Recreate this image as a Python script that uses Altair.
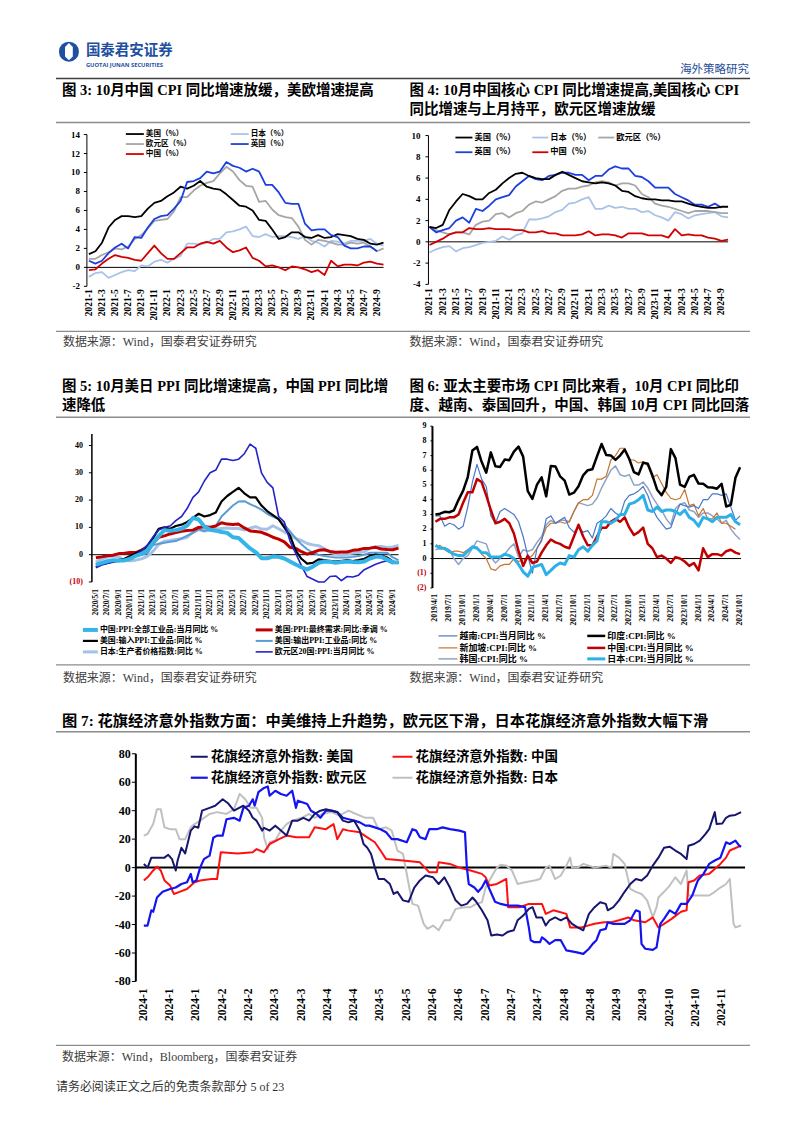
import altair as alt
import pandas as pd

SERIF = "Liberation Serif"
MIX = "'Liberation Serif', 'Noto Sans CJK SC', serif"
CJK = "'Noto Sans CJK SC', sans-serif"
LATIN = "'Open Sans', 'Noto Sans', sans-serif"
LOGO_BLUE = '#1e4fa0'
GRAY_LINE = '#8c8c8c'
DARK_LINE = '#3f3f3f'
SRC = '#404040'
OFF = 8  # page margin: page pixel -> canvas pixel

# ---------------- Figure 3: CPI YoY (2021-1 .. 2024-10) ----------------
lab3 = ['2021-1', '2021-3', '2021-5', '2021-7', '2021-9', '2021-11', '2022-1', '2022-3', '2022-5',
        '2022-7', '2022-9', '2022-11', '2023-1', '2023-3', '2023-5', '2023-7', '2023-9', '2023-11',
        '2024-1', '2024-3', '2024-5', '2024-7', '2024-9']
us3 = [1.4, 1.7, 2.6, 4.2, 5.0, 5.4, 5.4, 5.3, 5.4, 6.2, 6.8, 7.0, 7.5, 7.9, 8.5, 8.3, 8.6, 9.1, 8.5, 8.3,
       8.2, 7.7, 7.1, 6.5, 6.4, 6.0, 5.0, 4.9, 4.0, 3.0, 3.2, 3.7, 3.7, 3.2, 3.1, 3.4, 3.1, 3.2, 3.5, 3.4,
       3.3, 3.0, 2.9, 2.5, 2.4, 2.6]
jp3 = [-1.0, -0.6, -0.5, -1.1, -0.8, -0.5, -0.3, -0.4, 0.2, 0.1, 0.6, 0.8, 0.5, 0.9, 1.2, 2.5, 2.5, 2.4,
       2.6, 3.0, 3.0, 3.7, 3.8, 4.0, 4.3, 3.3, 3.2, 3.5, 3.2, 3.3, 3.3, 3.2, 3.0, 3.3, 2.8, 2.6, 2.2, 2.8,
       2.7, 2.5, 2.8, 2.8, 2.8, 3.0, 2.5, 2.3]
eu3 = [0.9, 0.9, 1.3, 1.6, 2.0, 1.9, 2.2, 3.0, 3.4, 4.1, 4.9, 5.0, 5.1, 5.9, 7.4, 7.4, 8.1, 8.6, 8.9, 9.1,
       9.9, 10.6, 10.1, 9.2, 8.6, 8.5, 6.9, 7.0, 6.1, 5.5, 5.3, 5.2, 4.3, 2.9, 2.4, 2.9, 2.8, 2.6, 2.4, 2.4,
       2.6, 2.5, 2.6, 2.2, 1.7, 2.0]
uk3 = [0.7, 0.4, 0.7, 1.5, 2.1, 2.5, 2.0, 3.2, 3.1, 4.2, 5.1, 5.4, 5.5, 6.2, 7.0, 9.0, 9.1, 9.4, 10.1, 9.9,
       10.1, 11.1, 10.7, 10.5, 10.1, 10.4, 10.1, 8.7, 8.7, 7.9, 6.8, 6.7, 6.7, 4.6, 3.9, 4.0, 4.0, 3.4, 3.2,
       2.3, 2.0, 2.0, 2.2, 2.2, 1.7]
cn3 = [-0.3, -0.2, 0.4, 0.9, 1.3, 1.1, 1.0, 0.8, 0.7, 1.5, 2.3, 1.5, 0.9, 0.9, 1.5, 2.1, 2.1, 2.5, 2.7, 2.5,
       2.8, 2.1, 1.6, 1.8, 2.1, 1.0, 0.7, 0.1, 0.2, 0.0, -0.3, 0.1, 0.0, -0.2, -0.5, -0.3, -0.8, 0.7, 0.1,
       0.3, 0.3, 0.2, 0.5, 0.6, 0.4, 0.3]

# ---------------- Figure 4: core CPI YoY ----------------
us4 = [1.4, 1.3, 1.6, 3.0, 3.8, 4.5, 4.3, 4.0, 4.0, 4.6, 4.9, 5.5, 6.0, 6.4, 6.5, 6.2, 6.0, 5.9, 5.9, 6.3,
       6.6, 6.3, 6.0, 5.7, 5.6, 5.5, 5.6, 5.5, 5.3, 4.8, 4.7, 4.3, 4.1, 4.0, 4.0, 3.9, 3.9, 3.8, 3.8, 3.6,
       3.4, 3.3, 3.2, 3.2, 3.3, 3.3]
jp4 = [-1.0, -0.7, -0.5, -0.4, -0.9, -0.6, -0.5, -0.3, -0.1, 0.0, 0.1, 0.5, 0.2, 0.6, 0.8, 2.1, 2.1, 2.2,
       2.4, 2.8, 3.0, 3.6, 3.7, 4.0, 4.2, 3.1, 3.1, 3.4, 3.2, 3.3, 3.1, 3.1, 2.8, 2.9, 2.5, 2.3, 2.0, 2.8,
       2.6, 2.2, 2.5, 2.6, 2.7, 2.8, 2.4, 2.3]
eu4 = [1.4, 1.1, 0.9, 0.7, 0.9, 0.9, 0.7, 1.6, 1.9, 2.0, 2.6, 2.7, 2.3, 2.7, 2.9, 3.5, 3.8, 3.7, 4.0, 4.3,
       4.8, 5.0, 5.0, 5.2, 5.3, 5.6, 5.7, 5.6, 5.3, 5.5, 5.5, 5.3, 4.5, 4.2, 3.6, 3.4, 3.3, 3.1, 2.9, 2.7,
       2.9, 2.9, 2.9, 2.8, 2.7, 2.7]
uk4 = [1.4, 0.9, 1.1, 1.3, 2.0, 2.3, 1.8, 3.1, 2.9, 3.4, 4.0, 4.2, 4.4, 5.2, 5.7, 6.2, 5.9, 5.8, 6.2, 6.3,
       6.5, 6.5, 6.3, 6.3, 5.8, 6.2, 6.2, 6.8, 7.1, 6.9, 6.9, 6.2, 6.1, 5.7, 5.1, 5.1, 5.1, 4.5, 4.2, 3.9,
       3.5, 3.5, 3.3, 3.6, 3.2]
cn4 = [-0.3, 0.0, 0.3, 0.7, 0.9, 0.9, 1.3, 1.2, 1.2, 1.3, 1.2, 1.2, 1.2, 1.1, 1.1, 0.9, 0.9, 1.0, 0.8, 0.8,
       0.6, 0.6, 0.6, 0.7, 1.0, 0.6, 0.7, 0.7, 0.6, 0.4, 0.8, 0.8, 0.8, 0.6, 0.6, 0.6, 0.4, 1.2, 0.6, 0.7,
       0.6, 0.6, 0.4, 0.3, 0.1, 0.2]

# ---------------- Figure 5: PPI YoY (2020/5 .. 2024/10) ----------------
lab5 = ['2020/5/1', '2020/7/1', '2020/9/1', '2020/11/1', '2021/1/1', '2021/3/1', '2021/5/1', '2021/7/1',
        '2021/9/1', '2021/11/1', '2022/1/1', '2022/3/1', '2022/5/1', '2022/7/1', '2022/9/1', '2022/11/1',
        '2023/1/1', '2023/3/1', '2023/5/1', '2023/7/1', '2023/9/1', '2023/11/1', '2024/1/1', '2024/3/1',
        '2024/5/1', '2024/7/1', '2024/9/1']
cn5 = [-3.7, -3.0, -2.4, -2.0, -2.1, -2.1, -1.5, -0.4, 0.3, 1.7, 4.4, 6.8, 9.0, 8.8, 9.0, 9.5, 10.7, 13.5,
       12.9, 10.3, 9.1, 8.8, 8.3, 8.0, 6.4, 6.1, 4.2, 2.3, 0.9, -1.3, -1.3, -0.7, -0.8, -1.4, -2.5, -3.6,
       -4.6, -5.4, -4.4, -3.0, -2.5, -2.6, -3.0, -2.7, -2.5, -2.7, -2.8, -2.5, -1.4, -0.8, -0.8, -1.8, -2.8,
       -2.9]
usppi5 = [-1.1, -0.8, -0.4, -0.2, 0.4, 0.5, 0.8, 0.8, 1.7, 2.8, 4.1, 6.4, 6.9, 7.6, 8.1, 8.6, 8.9, 9.0,
          10.0, 10.2, 10.1, 10.5, 11.7, 11.2, 11.1, 11.2, 9.8, 8.7, 8.5, 8.2, 7.4, 6.4, 5.7, 4.7, 2.7, 2.3,
          1.1, 0.2, 0.8, 1.6, 1.8, 1.2, 0.9, 1.0, 1.0, 1.6, 1.8, 2.3, 2.4, 2.7, 2.1, 1.9, 1.8, 2.4]
imp5 = [-4.5, -3.5, -3.0, -2.5, -2.0, -1.5, -0.5, 0.5, 1.5, 3.0, 6.0, 9.5, 10.0, 9.5, 10.5, 11.0, 12.0,
        13.5, 15.0, 14.0, 14.5, 15.5, 19.5, 21.5, 23.0, 24.5, 22.5, 21.0, 21.0, 18.0, 16.0, 14.5, 13.0,
        10.0, 7.0, 1.5, -1.5, -3.3, -3.0, -1.7, -2.0, -2.3, -2.5, -2.3, -2.0, -2.3, -2.0, -1.5, -0.5, 0.0,
        -0.3, -1.0, -2.5, -3.0]
exp5 = [-4.0, -3.0, -2.8, -2.5, -2.5, -2.0, -1.5, -0.5, 0.0, 0.5, 3.5, 4.0, 4.4, 4.7, 5.0, 6.0, 7.0, 8.0,
        9.3, 8.7, 9.5, 10.5, 14.0, 16.0, 18.0, 19.5, 19.6, 18.5, 17.6, 16.5, 15.0, 14.0, 13.0, 11.0, 8.5,
        6.0, 3.8, 2.0, 0.7, 0.0, -0.5, -0.8, -1.0, -1.0, -1.0, -0.8, -0.5, 0.0, 0.7, 0.7, 0.7, 0.7, -1.0,
        -2.0]
jp5 = [-2.7, -1.6, -0.9, -0.5, -0.8, -2.1, -2.2, -2.0, -1.5, -0.6, 1.2, 3.8, 4.9, 5.2, 5.6, 5.8, 6.4, 8.3,
       9.2, 8.7, 9.0, 9.4, 9.6, 9.8, 9.6, 9.6, 9.0, 9.7, 10.3, 9.4, 9.3, 10.6, 9.5, 8.3, 7.4, 5.9, 5.2, 4.1,
       3.6, 3.3, 2.2, 0.9, 0.3, 0.0, 0.2, 0.6, 0.8, 1.1, 2.4, 2.9, 3.0, 2.6, 2.8, 3.4]
eu5 = [-4.8, -3.8, -3.2, -2.8, -2.2, -2.0, -1.2, 0.0, 1.5, 3.5, 6.5, 9.0, 10.0, 10.5, 12.5, 14.0, 17.0,
       21.0, 23.0, 27.0, 30.0, 31.0, 35.0, 35.0, 34.5, 35.0, 37.0, 40.5, 39.0, 30.0, 26.5, 24.5, 14.0, 12.0,
       5.0, 0.5, -4.0, -8.0, -9.0, -10.0, -10.0, -8.0, -7.8, -9.5, -8.0, -8.2, -7.5, -5.5, -4.5, -3.5, -2.8,
       -2.2, -3.3]

# ---------------- Figure 6: Asia CPI YoY (2019/4 .. 2024/10) ----------------
lab6 = ['2019/4/1', '2019/7/1', '2019/10/1', '2020/1/1', '2020/4/1', '2020/7/1', '2020/10/1', '2021/1/1',
        '2021/4/1', '2021/7/1', '2021/10/1', '2022/1/1', '2022/4/1', '2022/7/1', '2022/10/1', '2023/1/1',
        '2023/4/1', '2023/7/1', '2023/10/1', '2024/1/1', '2024/4/1', '2024/7/1', '2024/10/1']
in6 = [2.99, 3.05, 3.18, 3.15, 3.28, 3.99, 4.62, 5.54, 7.35, 7.59, 6.58, 5.84, 7.22, 6.27, 6.23, 6.73, 6.69,
       7.27, 7.61, 6.93, 4.59, 4.06, 5.03, 5.52, 4.23, 6.30, 6.26, 5.59, 5.30, 4.35, 4.48, 4.91, 5.66, 6.01,
       6.07, 6.95, 7.79, 7.04, 7.01, 6.71, 7.00, 7.41, 6.77, 5.88, 5.72, 6.52, 6.44, 5.66, 4.70, 4.31, 4.87,
       7.44, 6.83, 5.02, 4.87, 5.55, 5.69, 5.10, 5.09, 4.85, 4.83, 4.75, 5.08, 3.54, 3.65, 5.49, 6.21]
cn6 = [2.5, 2.7, 2.7, 2.8, 2.8, 3.0, 3.8, 4.5, 4.5, 5.4, 5.2, 4.3, 3.3, 2.4, 2.5, 2.7, 2.4, 1.7, 0.5, -0.5,
       0.2, -0.3, -0.2, 0.4, 0.9, 1.3, 1.1, 1.0, 0.8, 0.7, 1.5, 2.3, 1.5, 0.9, 0.9, 1.5, 2.1, 2.1, 2.5, 2.7,
       2.5, 2.8, 2.1, 1.6, 1.8, 2.1, 1.0, 0.7, 0.1, 0.2, 0.0, -0.3, 0.1, 0.0, -0.2, -0.5, -0.3, -0.8, 0.7,
       0.1, 0.3, 0.3, 0.2, 0.5, 0.6, 0.4, 0.3]
jp6 = [0.9, 0.7, 0.7, 0.5, 0.3, 0.2, 0.2, 0.5, 0.8, 0.7, 0.4, 0.4, 0.1, 0.1, 0.1, 0.3, 0.2, 0.0, -0.4, -0.9,
       -1.2, -0.6, -0.5, -0.4, -1.1, -0.8, -0.5, -0.3, -0.4, 0.2, 0.1, 0.6, 0.8, 0.5, 0.9, 1.2, 2.5, 2.5,
       2.4, 2.6, 3.0, 3.0, 3.7, 3.8, 4.0, 4.3, 3.3, 3.2, 3.5, 3.2, 3.3, 3.3, 3.2, 3.0, 3.3, 2.8, 2.6, 2.2,
       2.8, 2.7, 2.5, 2.8, 2.8, 2.8, 3.0, 2.5, 2.3]
vn6 = [2.9, 2.9, 2.2, 2.4, 2.3, 2.0, 2.2, 3.5, 5.2, 6.4, 5.4, 4.9, 2.9, 2.4, 3.2, 3.4, 3.2, 3.0, 2.5, 1.5,
       0.2, -1.0, 0.7, 1.2, 2.7, 2.9, 2.4, 2.6, 2.8, 2.1, 1.8, 2.1, 1.8, 1.9, 1.4, 2.4, 2.6, 2.9, 3.4, 3.1,
       2.9, 3.9, 4.3, 4.4, 4.6, 4.9, 4.3, 3.4, 2.8, 2.4, 2.0, 2.1, 3.0, 3.7, 3.6, 3.5, 3.6, 3.4, 4.0, 4.0,
       4.4, 4.4, 4.3, 4.4, 3.5, 2.6, 2.9]
sg6 = [0.8, 0.9, 0.6, 0.4, 0.5, 0.5, 0.4, 0.6, 0.8, 0.8, 0.3, 0.0, -0.7, -0.8, -0.5, -0.4, -0.4, 0.0, -0.2,
       -0.1, 0.0, 0.2, 0.7, 1.3, 2.1, 2.4, 2.4, 2.5, 2.4, 2.5, 3.2, 3.8, 4.0, 4.0, 4.3, 5.4, 5.4, 5.6, 6.7,
       7.0, 7.5, 7.5, 6.7, 6.7, 6.5, 6.6, 6.3, 5.5, 5.7, 5.1, 4.5, 4.1, 4.0, 4.1, 4.7, 3.6, 3.7, 2.9, 3.4,
       2.7, 2.7, 3.1, 2.4, 2.4, 2.2, 2.0]
kr6 = [0.6, 0.7, 0.7, 0.6, 0.0, -0.4, 0.0, 0.2, 0.7, 1.2, 1.1, 1.0, 0.1, -0.3, 0.0, 0.3, 0.7, 1.0, 0.1, 0.6,
       0.5, 0.6, 1.1, 1.5, 2.3, 2.6, 2.4, 2.6, 2.6, 2.5, 3.2, 3.8, 3.7, 3.6, 3.7, 4.1, 4.8, 5.4, 6.0, 6.3,
       5.7, 5.6, 5.7, 5.0, 5.0, 5.2, 4.8, 4.2, 3.7, 3.3, 2.7, 2.3, 3.4, 3.7, 3.8, 3.3, 3.2, 2.8, 3.1, 3.1,
       2.9, 2.7, 2.4, 2.6, 2.0, 1.6, 1.3]

# ---------------- Figure 7: Citi economic surprise index (days since 2024-01-01) ----------------
lab7 = ['2024-1', '2024-1', '2024-1', '2024-2', '2024-2', '2024-3', '2024-3', '2024-4', '2024-4', '2024-5',
        '2024-5', '2024-6', '2024-6', '2024-7', '2024-7', '2024-7', '2024-8', '2024-8', '2024-9', '2024-9',
        '2024-10', '2024-10', '2024-11']
us7_d = [0, 2, 4, 11, 13, 15, 17, 18, 20, 22, 25, 27, 29, 31, 35, 38, 42, 45, 48, 53, 56, 58, 60, 63, 64, 67,
         70, 73, 76, 79, 82, 85, 88, 91, 94, 97, 100, 103, 106, 109, 112, 115, 117, 119, 121, 123, 125, 128,
         131, 133, 135, 138, 141, 144, 147, 150, 154, 157, 160, 163, 166, 169, 172, 175, 177, 180, 183, 185,
         188, 191, 194, 197, 199, 202, 205, 207, 209, 212, 214, 216, 219, 222, 225, 228, 231, 234, 237, 240,
         243, 246, 247, 250, 253, 256, 259, 262, 265, 268, 271, 274, 277, 280, 283, 286, 289, 290, 293, 296,
         299, 301, 304, 305, 308, 310, 312, 315, 318]
us7_v = [2.6, 0, 7, 7, 9, 6, -2, 5, 14, 10, 26, 29, 28, 40, 42, 43.5, 48, 45, 40, 43.5, 40, 35, 33, 26, 28,
         26, 29.5, 26, 22.5, 33, 33, 35, 33, 37.7, 40, 41, 40, 39, 33, 31.8, 33, 26, 16.6, 14, 9.6, 0, -8, -8,
         -11.5, -18.5, -17, -23, -24, -14, -9, -5.6, -6.8, -11.5, -6.8, -14, -23, -26.7, -25.5, -21, -24, -30,
         -37, -47.7, -47, -47.7, -45, -44, -37, -33.7, -29, -27.8, -35, -35, -40.7, -37, -35, -37, -35, -39.5,
         -42, -44, -32.5, -27.8, -24.3, -25.5, -30, -27.8, -23, -17, -11.5, -8, -9, -5.6, 1.4, 7, 14, 14.7,
         12, 9.6, 6, 15.4, 16.6, 19, 23.6, 27, 39, 30.6, 31, 35, 36.5, 37, 39]
eu7_d = [0, 2, 4, 5, 7, 10, 14, 17, 20, 23, 25, 26, 28, 30, 32, 35, 37, 39, 42, 44, 48, 51, 53, 56, 58, 59,
         61, 64, 66, 67, 70, 73, 76, 79, 81, 82, 87, 89, 92, 94, 97, 100, 103, 106, 109, 112, 115, 118, 120,
         123, 126, 129, 132, 135, 140, 143, 145, 147, 150, 152, 156, 159, 163, 168, 171, 172, 173, 176, 178,
         180, 182, 184, 187, 190, 194, 199, 203, 205, 206, 208, 211, 212, 214, 216, 219, 222, 225, 230, 234,
         237, 239, 241, 243, 246, 247, 250, 253, 256, 259, 262, 264, 265, 267, 271, 273, 275, 277, 280, 283,
         286, 289, 292, 295, 298, 301, 304, 307, 310, 312, 315, 317, 318]
eu7_v = [-40.7, -40.7, -30, -31, -21, -17, -15, -14, -11.5, -10.3, -4.4, -10.3, -9, 0, 6, 8.4, 21, 22.5,
         22.5, 34, 35, 33, 42, 43.5, 48, 43.5, 53, 56, 57, 50.5, 54, 51.7, 50.5, 54, 42, 47, 44.7, 40, 37.7,
         35, 40, 40, 39, 35, 34, 33, 31.8, 29.5, 29.5, 28.3, 27, 24.8, 20, 20, 17.8, 27, 26, 21.3, 20, 27, 27,
         28.3, 27, 26, 24.8, 0, -11.5, -14, -17, -14, -9, -15, -24, -25.5, -26.7, -26.7, -27.8, -42, -51,
         -52.4, -52.4, -49, -51, -53.6, -51, -51, -58.2, -59.4, -60.6, -57, -53.6, -51, -44, -43, -38.4,
         -39.5, -39.5, -39.5, -37, -30, -31, -53.6, -57, -57.8, -56, -39.5, -36, -30, -32.5, -25.5, -25.5,
         -19.6, -9, -4.4, 2.6, 5, 7, 17.8, 16.6, 19, 15.4, 14.7]
cn7_d = [0, 2, 5, 7, 9, 11, 14, 16, 19, 23, 27, 30, 36, 39, 41, 50, 58, 60, 64, 67, 72, 76, 81, 88, 91, 97,
         101, 103, 106, 109, 115, 119, 123, 126, 129, 138, 147, 152, 156, 157, 163, 168, 174, 180, 182, 184,
         188, 193, 194, 200, 205, 209, 212, 214, 218, 221, 225, 227, 233, 240, 245, 249, 253, 258, 261, 267,
         271, 274, 277, 281, 286, 289, 290, 293, 296, 301, 304, 307, 310, 312, 318]
cn7_v = [-9, -6.8, -2, 0.7, -2, -9, -12.6, -18.5, -17, -15, -10.3, -9, -8, -8, 10.8, 10, 10.8, 13, 10.8,
         16.6, 20, 22.5, 21.3, 21.3, 28.3, 27, 30.6, 20, 27, 26, 24.8, 21.3, 17.8, 12, 6, 5, 3.7, -3.3, -3.3,
         3.7, 2.6, 0, -2, -4.4, -6.8, -12.6, -11.5, -8, -27.8, -27.8, -25.5, -25.5, -25.5, -32.5, -30, -31,
         -32.5, -42, -42, -39.5, -38.4, -38.4, -37, -35, -37, -38.4, -35, -42, -39.5, -36, -31, -30, -10.3,
         -9, -5.6, -4.4, -1, 2.6, 7, 12, 15.4]
jp7_d = [0, 2, 5, 7, 9, 11, 14, 17, 19, 22, 25, 27, 30, 35, 39, 44, 48, 51, 54, 57, 60, 63, 64, 66, 67, 70,
         73, 76, 79, 84, 88, 91, 95, 100, 104, 109, 113, 118, 122, 125, 129, 132, 135, 138, 141, 143, 146,
         149, 151, 154, 157, 160, 163, 166, 171, 174, 177, 180, 182, 185, 188, 190, 193, 196, 199, 203, 208,
         211, 214, 216, 219, 222, 225, 227, 228, 231, 234, 237, 240, 243, 246, 249, 250, 253, 256, 259, 262,
         265, 268, 271, 273, 274, 277, 280, 283, 286, 289, 290, 293, 296, 301, 304, 307, 310, 312, 314, 315,
         318]
jp7_v = [22.5, 23.6, 30.6, 41, 41, 28.3, 27, 27, 20, 20, 28.3, 30.6, 33, 37.7, 39, 37.7, 41, 51.7, 48, 42,
         42, 35, 21.3, 13, 17.8, 19, 26, 30.6, 33, 35, 37.7, 35, 37.7, 39, 36.5, 40, 37.7, 35, 35, 27, 28.3,
         26, 12, 9.6, -11.5, -25.5, -26.7, -39.5, -43, -40.7, -44, -37, -37, -29, -27.8, -27.8, -25.5, -24.3,
         -14, -6.8, 0, 2, 1.4, -2, -11.5, -10.3, -9, -8, 0, 1.4, -8, -5.6, 1.4, 7, 0, 0, 2.6, 1.4, 0, 0.7, 1.4,
         0, 9.6, 7, 2.6, -15, -17, -18.5, -23, -35, -27.8, -21, -17, -12.6, -6.8, -11.5, -2, -19.6, -19.6,
         -19.6, -19.6, -17, -14, -11.5, -8, -39.5, -42, -40.7]


def c(p):
    return p - OFF


def idx(vals):
    return list(range(len(vals)))


def chart_layers(series, labels, step, xdom, xpix, ydom, ypix, yvals, axis_x, axis_top, zero_span,
                 xlab_y, xlab_size, ylab_right, ylab_size, paren=False, dom_w=1.0, tick=3, zero_w=1.0):
    """One line chart drawn through its own x/y scales, placed by the pixel ranges of those scales."""
    xs = alt.Scale(domain=xdom, range=[c(xpix[0]), c(xpix[1])], nice=False, zero=False)
    ys = alt.Scale(domain=ydom, range=[c(ypix[0]), c(ypix[1])], nice=False, zero=False)

    def X(f):
        return alt.X(f, scale=xs, axis=None, title=None)

    def Y(f):
        return alt.Y(f, scale=ys, axis=None, title=None)

    layers = []
    layers.append(alt.Chart(pd.DataFrame({'v': [0]})).mark_rule(color='black', strokeWidth=zero_w).encode(
        x=alt.value(c(zero_span[0])), x2=alt.value(c(zero_span[1])), y=Y('v:Q')))
    layers.append(alt.Chart(pd.DataFrame({'v': [ydom[0]], 'v2': [axis_top]})).mark_rule(
        color='black', strokeWidth=dom_w).encode(x=alt.value(c(axis_x)), y=Y('v:Q'), y2='v2:Q'))
    if paren:
        labs = ['(%d)' % abs(v) if v < 0 else '%d' % v for v in yvals]
        cols = ['#c00000' if v < 0 else 'black' for v in yvals]
    else:
        labs = ['%d' % v for v in yvals]
        cols = ['black' for v in yvals]
    tdf = pd.DataFrame({'v': yvals, 'lab': labs, 'col': cols})
    layers.append(alt.Chart(tdf).mark_rule(color='black', strokeWidth=1).encode(
        x=alt.value(c(axis_x - tick)), x2=alt.value(c(axis_x)), y=Y('v:Q')))
    layers.append(alt.Chart(tdf).mark_text(align='right', baseline='middle', font=SERIF, fontWeight='bold',
                                           fontSize=ylab_size).encode(
        x=alt.value(c(ylab_right)), y=Y('v:Q'), text='lab:N', color=alt.Color('col:N', scale=None, legend=None)))
    ldf = pd.DataFrame({'i': [k * step for k in range(len(labels))], 'lab': labels})
    layers.append(alt.Chart(ldf).mark_text(align='right', baseline='middle', angle=270, font=SERIF,
                                           fontWeight='bold', fontSize=xlab_size, color='black').encode(
        x=X('i:Q'), y=alt.value(c(xlab_y)), text='lab:N'))
    for xv, vv, color, w in series:
        layers.append(alt.Chart(pd.DataFrame({'i': xv, 'v': vv})).mark_line(
            color=color, strokeWidth=w, strokeJoin='round').encode(x=X('i:Q'), y=Y('v:Q')))
    return layers


def text_layers(items):
    df = pd.DataFrame(items, columns=['x', 'y', 't', 'fs', 'col', 'w', 'f'])
    df['x'] = df['x'] - OFF
    df['y'] = df['y'] - OFF
    out = []
    for (w, f), g in df.groupby(['w', 'f']):
        out.append(alt.Chart(g.reset_index(drop=True)).mark_text(
            align='left', baseline='middle', fontWeight=w, font=f).encode(
            x=alt.X('x:Q', scale=None, axis=None), y=alt.Y('y:Q', scale=None, axis=None),
            text='t:N', size=alt.Size('fs:Q', scale=None, legend=None),
            color=alt.Color('col:N', scale=None, legend=None)))
    return out


def rule_layer(items):
    df = pd.DataFrame(items, columns=['x', 'x2', 'y', 'col', 'sw'])
    for k in ['x', 'x2', 'y']:
        df[k] = df[k] - OFF
    return alt.Chart(df).mark_rule().encode(
        x=alt.X('x:Q', scale=None, axis=None), x2='x2:Q', y=alt.Y('y:Q', scale=None, axis=None),
        color=alt.Color('col:N', scale=None, legend=None),
        strokeWidth=alt.StrokeWidth('sw:Q', scale=None, legend=None))


# colours
C3 = {'us': '#000000', 'jp': '#a9c3e8', 'eu': '#a6a6a6', 'uk': '#1c3fe0', 'cn': '#d40000'}
C5 = {'cn': '#35b4e8', 'us': '#c00000', 'imp': '#000000', 'exp': '#5b9bd5', 'jp': '#a4c2e6', 'eu': '#2323c8'}
C6 = {'vn': '#4a78c8', 'in': '#000000', 'sg': '#c8732d', 'cn': '#c00000', 'kr': '#8fa2c6', 'jp': '#2cb0e8'}
C7 = {'us': '#16166e', 'cn': '#ff1010', 'eu': '#1414f0', 'jp': '#c0c0c0'}

layers = []

# ---------- chart 3 ----------
layers += chart_layers(
    [(idx(jp3), jp3, C3['jp'], 1.8), (idx(eu3), eu3, C3['eu'], 1.8), (idx(cn3), cn3, C3['cn'], 1.8),
     (idx(us3), us3, C3['us'], 1.8), (idx(uk3), uk3, C3['uk'], 1.8)],
    lab3, 2, [0, 45], [88, 383], [-2, 14], [285, 133], list(range(-2, 15, 2)),
    axis_x=86, axis_top=14, zero_span=[86, 383], xlab_y=288, xlab_size=9.5, ylab_right=79, ylab_size=9)
# ---------- chart 4 ----------
layers += chart_layers(
    [(idx(jp4), jp4, C3['jp'], 1.8), (idx(eu4), eu4, C3['eu'], 1.8), (idx(cn4), cn4, C3['cn'], 1.8),
     (idx(uk4), uk4, C3['uk'], 1.8), (idx(us4), us4, C3['us'], 1.8)],
    lab3, 2, [0, 45], [429, 728], [-4, 10], [283, 134], list(range(-4, 11, 2)),
    axis_x=428, axis_top=10, zero_span=[428, 728], xlab_y=287, xlab_size=9.5, ylab_right=420, ylab_size=9)
# ---------- chart 5 ----------
layers += chart_layers(
    [(idx(jp5), jp5, C5['jp'], 3), (idx(exp5), exp5, C5['exp'], 2), (idx(usppi5), usppi5, C5['us'], 3),
     (idx(imp5), imp5, C5['imp'], 2.2), (idx(eu5), eu5, C5['eu'], 1.6), (idx(cn5), cn5, C5['cn'], 4)],
    lab5, 2, [0, 53], [95, 398], [-10, 45], [581, 430.7], [-10, 0, 10, 20, 30, 40],
    axis_x=91, axis_top=44.2, zero_span=[91, 398], xlab_y=588, xlab_size=7.5, ylab_right=82, ylab_size=8,
    paren=True, dom_w=1.5)
# ---------- chart 6 ----------
layers += chart_layers(
    [(idx(kr6), kr6, C6['kr'], 1.5), (idx(sg6), sg6, C6['sg'], 1.2), (idx(vn6), vn6, C6['vn'], 1.2),
     (idx(in6), in6, C6['in'], 2.5), (idx(cn6), cn6, C6['cn'], 2.5), (idx(jp6), jp6, C6['jp'], 3)],
    lab6, 3, [0, 66], [435, 740], [-2, 9], [587, 425], list(range(-2, 10)),
    axis_x=432, axis_top=9, zero_span=[432, 741], xlab_y=593, xlab_size=7.8, ylab_right=426, ylab_size=8,
    paren=True, dom_w=2, tick=2)
# ---------- chart 7 ----------
layers += chart_layers(
    [(jp7_d, jp7_v, C7['jp'], 2), (cn7_d, cn7_v, C7['cn'], 2), (eu7_d, eu7_v, C7['eu'], 2.2),
     (us7_d, us7_v, C7['us'], 2)],
    lab7, 14, [0, 318], [143, 741], [-80, 80], [981, 753], list(range(-80, 81, 20)),
    axis_x=135, axis_top=80, zero_span=[135, 745], xlab_y=988, xlab_size=11.5, ylab_right=130, ylab_size=12,
    dom_w=2, tick=4, zero_w=2)

# ---------- page texts (page pixel coordinates) ----------
T = 14.5
L3 = 7.6
texts = [
    (85, 49, '国泰君安证券', 14.5, LOGO_BLUE, 'bold', CJK),
    (85, 63, 'GUOTAI JUNAN SECURITIES', 5.8, LOGO_BLUE, 'bold', LATIN),
    (680, 68, '海外策略研究', 11.5, '#1f4e9a', 'normal', CJK),
    (61, 89, '图 3: 10月中国 CPI 同比增速放缓，美欧增速提高', T, 'black', 'bold', MIX),
    (409, 89, '图 4: 10月中国核心 CPI 同比增速提高,美国核心 CPI', T, 'black', 'bold', MIX),
    (409, 108, '同比增速与上月持平，欧元区增速放缓', T, 'black', 'bold', MIX),
    # chart 3 legend
    (145, 132.5, '美国（%）', L3, 'black', 'bold', CJK),
    (250, 132.5, '日本（%）', L3, 'black', 'bold', CJK),
    (145, 142.5, '欧元区（%）', L3, 'black', 'bold', CJK),
    (250, 142.5, '英国（%）', L3, 'black', 'bold', CJK),
    (145, 152.5, '中国（%）', L3, 'black', 'bold', CJK),
    # chart 4 legend
    (474, 136, '美国（%）', 8.3, 'black', 'bold', CJK),
    (550, 136, '日本（%）', 8.3, 'black', 'bold', CJK),
    (616, 136, '欧元区（%）', 8.3, 'black', 'bold', CJK),
    (474, 150.7, '英国（%）', 8.3, 'black', 'bold', CJK),
    (550, 150.7, '中国（%）', 8.3, 'black', 'bold', CJK),
    (62, 341, '数据来源：Wind，国泰君安证券研究', 12, SRC, 'normal', MIX),
    (409, 341, '数据来源：Wind，国泰君安证券研究', 12, SRC, 'normal', MIX),
    (61, 386, '图 5: 10月美日 PPI 同比增速提高，中国 PPI 同比增', T, 'black', 'bold', MIX),
    (61, 405, '速降低', T, 'black', 'bold', MIX),
    (409, 386, '图 6: 亚太主要市场 CPI 同比来看，10月 CPI 同比印', T, 'black', 'bold', MIX),
    (409, 405, '度、越南、泰国回升，中国、韩国 10月 CPI 同比回落', T, 'black', 'bold', MIX),
    # chart 5 legend
    (99, 629, '中国:PPI:全部工业品:当月同比 %', 8, 'black', 'bold', MIX),
    (274, 629, '美国:PPI:最终需求:同比:季调 %', 8, 'black', 'bold', MIX),
    (99, 640, '美国:输入PPI:工业品:同比 %', 8, 'black', 'bold', MIX),
    (274, 640, '美国:输出PPI:工业品:同比 %', 8, 'black', 'bold', MIX),
    (99, 651, '日本:生产者价格指数:同比 %', 8, 'black', 'bold', MIX),
    (274, 651, '欧元区20国:PPI:当月同比 %', 8, 'black', 'bold', MIX),
    # chart 6 legend
    (459, 635, '越南:CPI:当月同比 %', 9, 'black', 'bold', MIX),
    (607, 635, '印度:CPI:同比 %', 9, 'black', 'bold', MIX),
    (459, 647, '新加坡:CPI:同比 %', 9, 'black', 'bold', MIX),
    (607, 647, '中国:CPI:当月同比 %', 9, 'black', 'bold', MIX),
    (459, 658, '韩国:CPI:同比 %', 9, 'black', 'bold', MIX),
    (607, 658, '日本:CPI:当月同比 %', 9, 'black', 'bold', MIX),
    (62, 677, '数据来源：Wind，国泰君安证券研究', 12, SRC, 'normal', MIX),
    (409, 677, '数据来源：Wind，国泰君安证券研究', 12, SRC, 'normal', MIX),
    (61, 720, '图 7: 花旗经济意外指数方面：中美维持上升趋势，欧元区下滑，日本花旗经济意外指数大幅下滑', 15.3,
     'black', 'bold', MIX),
    # chart 7 legend
    (210, 756, '花旗经济意外指数: 美国', 13.5, 'black', 'bold', MIX),
    (415, 756, '花旗经济意外指数: 中国', 13.5, 'black', 'bold', MIX),
    (210, 777, '花旗经济意外指数: 欧元区', 13.5, 'black', 'bold', MIX),
    (415, 777, '花旗经济意外指数: 日本', 13.5, 'black', 'bold', MIX),
    (61, 1057, '数据来源：Wind，Bloomberg，国泰君安证券', 12, SRC, 'normal', MIX),
    (55, 1087, '请务必阅读正文之后的免责条款部分 5 of 23', 12, '#333333', 'normal', MIX),
]
rules = [
    (8, 9, 8, 'white', 1),
    (55, 750, 77, DARK_LINE, 1.5),
    (55, 750, 121, GRAY_LINE, 1.5),
    (125, 143, 132.5, C3['us'], 1.8), (230, 248, 132.5, C3['jp'], 1.8), (125, 143, 142.5, C3['eu'], 1.8),
    (230, 248, 142.5, C3['uk'], 1.8), (125, 143, 152.5, C3['cn'], 1.8),
    (455, 472, 136, C3['us'], 1.8), (532, 548, 136, C3['jp'], 1.8), (598, 614, 136, C3['eu'], 1.8),
    (455, 472, 150.7, C3['uk'], 1.8), (532, 548, 150.7, C3['cn'], 1.8),
    (55, 750, 330, GRAY_LINE, 1.2),
    (55, 750, 416, GRAY_LINE, 1.5),
    (82, 97, 629, C5['cn'], 4), (255, 272, 629, C5['us'], 3),
    (82, 97, 640, C5['imp'], 2.2), (255, 272, 640, C5['exp'], 2),
    (82, 97, 651, C5['jp'], 3), (255, 272, 651, C5['eu'], 1.6),
    (438, 457, 635, C6['vn'], 1.2), (587, 605, 635, C6['in'], 2.5),
    (438, 457, 647, C6['sg'], 1.2), (587, 605, 647, C6['cn'], 2.5),
    (438, 457, 658, C6['kr'], 1.5), (587, 605, 658, C6['jp'], 3),
    (55, 750, 664, GRAY_LINE, 1.2),
    (55, 750, 731, GRAY_LINE, 1.5),
    (190, 207, 756, C7['us'], 2), (392, 412, 756, C7['cn'], 2),
    (190, 207, 777, C7['eu'], 2.2), (392, 412, 777, C7['jp'], 2),
    (55, 750, 1045, GRAY_LINE, 1.2),
]
layers.append(rule_layer(rules))
layers += text_layers(texts)

# logo icon
hex_shape = "M0,-1L0.45,-0.55L0.45,0.55L0,1L-0.45,0.55L-0.45,-0.55Z"
icon_df = pd.DataFrame({'x': [68 - OFF], 'y': [50 - OFF]})
layers.append(alt.Chart(icon_df).mark_point(shape='circle', filled=True, size=400, color=LOGO_BLUE,
                                            opacity=1).encode(
    x=alt.X('x:Q', scale=None, axis=None), y=alt.Y('y:Q', scale=None, axis=None)))
layers.append(alt.Chart(icon_df).mark_point(shape=hex_shape, filled=True, size=300, color='white',
                                            opacity=1).encode(
    x=alt.X('x:Q', scale=None, axis=None), y=alt.Y('y:Q', scale=None, axis=None)))

chart = alt.layer(*layers).resolve_scale(x='independent', y='independent').properties(
    width=786, height=1117, padding=0, background='white'
).configure_view(stroke=None)

chart.save("out.html", embed_options={"renderer": "svg", "actions": False})
